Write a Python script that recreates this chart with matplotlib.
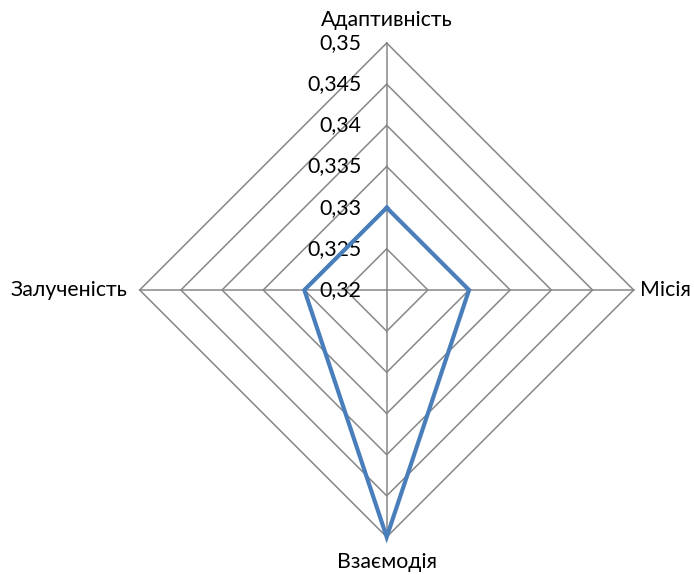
import numpy as np
import matplotlib
matplotlib.use("Agg")
import matplotlib.pyplot as plt
import matplotlib.transforms as mtransforms

plt.rcParams['font.family'] = ['Lato', 'DejaVu Sans']

categories = ["Адаптивність", "Місія", "Взаємодія", "Залученість"]
values = [0.33, 0.33, 0.35, 0.33]
ticks = [0.32, 0.325, 0.33, 0.335, 0.34, 0.345, 0.35]
tick_labels = ["0,32", "0,325", "0,33", "0,335", "0,34", "0,345", "0,35"]

W, H = 694, 575
fig = plt.figure(figsize=(W / 100, H / 100), dpi=100)
cx, cy, R = 386.7, 290.0, 247.0
ax = fig.add_axes([(cx - R) / W, (H - cy - R) / H, 2 * R / W, 2 * R / H],
                  projection='polar')
ax.set_theta_zero_location('N')
ax.set_theta_direction(-1)
ax.set_ylim(ticks[0], ticks[-1])
ax.grid(False)
ax.spines['polar'].set_visible(False)
ax.set_xticks([])
ax.set_yticks([])
ax.patch.set_visible(False)

n = len(categories)
theta = np.arange(n) * 2 * np.pi / n
theta_closed = np.append(theta, theta[0])

grid_color = '#878787'
# diamond rings
for t in ticks[1:]:
    ax.plot(theta_closed, [t] * (n + 1), color=grid_color, lw=1.1,
            clip_on=False, solid_joinstyle='miter')
# spokes
for th in theta:
    ax.plot([th, th], [ticks[0], ticks[-1]], color=grid_color, lw=1.1,
            clip_on=False)

# data series
vals_closed = values + values[:1]
ax.plot(theta_closed, vals_closed, color='#4A7EBB', lw=3.0,
        clip_on=False, solid_joinstyle='miter', zorder=5)

fs = 15.3
# value labels along the top spoke
off = mtransforms.offset_copy(ax.transData, fig=fig, x=-18, y=0, units='points')
for t, lab in zip(ticks, tick_labels):
    ax.text(0, t, lab, transform=off, ha='right', va='center', fontsize=fs,
            color='#000000')

# category labels
pads = [(0, 12.5, 'center', 'baseline'), (4.3, 0, 'left', 'center'),
        (0, -10.5, 'center', 'top'), (-8.6, 0, 'right', 'center')]
for th, lab, (dx, dy, ha, va) in zip(theta, categories, pads):
    tr = mtransforms.offset_copy(ax.transData, fig=fig, x=dx, y=dy, units='points')
    ax.text(th, ticks[-1], lab, transform=tr, ha=ha, va=va, fontsize=fs,
            color='#000000')

fig.savefig("out.png", dpi=100)
